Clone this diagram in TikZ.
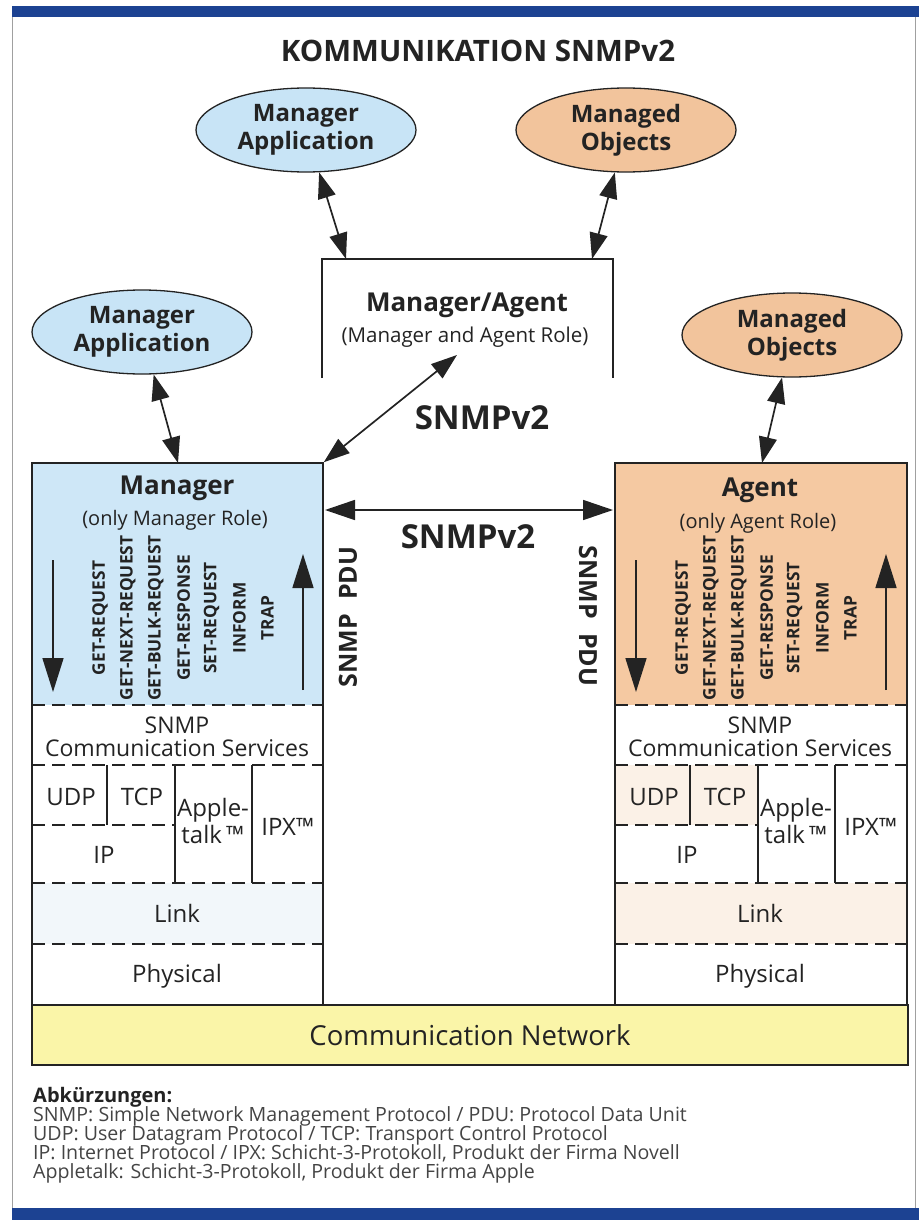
\documentclass[tikz,border=0pt]{standalone}
\usepackage{fontspec}
\setmainfont{Open Sans}
\usetikzlibrary{arrows.meta,shapes.geometric,calc}
\definecolor{barblue}{RGB}{28,66,146}
\definecolor{ellblue}{RGB}{200,228,246}
\definecolor{ellpeach}{RGB}{242,196,156}
\definecolor{mgrfill}{RGB}{206,231,247}
\definecolor{agtfill}{RGB}{245,201,162}
\definecolor{mgrfaint}{RGB}{242,247,250}
\definecolor{agtfaint}{RGB}{251,241,231}
\definecolor{cnyellow}{RGB}{250,245,168}
\definecolor{ink}{RGB}{35,35,35}
\definecolor{framegray}{RGB}{160,160,160}
\newcommand\fsz[2]{\fontsize{#1}{#2}\selectfont}
\begin{document}
\begin{tikzpicture}[x=1pt,y=-1pt,
  every node/.style={text=ink},
  ell/.style={ellipse, draw=ink, line width=1.3pt, minimum width=220pt, minimum height=84pt,
    inner sep=0pt, align=center, font=\bfseries\fsz{24}{28}},
  darr/.style={draw=ink, line width=1.7pt, {Triangle[length=26pt,width=18pt]}-{Triangle[length=26pt,width=18pt]}},
  harr/.style={draw=ink, line width=1.7pt, {Triangle[length=30pt,width=20pt]}-{Triangle[length=30pt,width=20pt]}},
  parr/.style={draw=ink, line width=1.6pt, -{Triangle[length=34pt,width=21pt]}},
  dsh/.style={draw=ink, line width=1.5pt, dash pattern=on 13pt off 7pt},
  sol/.style={draw=ink, line width=1.5pt},
  vlab/.style={rotate=90, font=\bfseries\fsz{17.3}{18}, inner sep=0pt},
  lbl/.style={font=\fsz{24}{27}, align=center, inner sep=0pt},
  foot/.style={anchor=base west, inner sep=0pt, font=\fsz{19.6}{21}, text=ink!85}
]
\useasboundingbox (0,0) rectangle (919,1220);
% frame and bars
\draw[framegray, line width=1pt] (12,17) -- (12,1208);
\draw[framegray, line width=1pt] (915,17) -- (915,1208);
\fill[barblue] (12,6) rectangle (919,17);
\fill[barblue] (12,1208) rectangle (919,1220);

% title
\node[font=\bfseries\fsz{29.5}{32}] (title) at (478,51) {KOMMUNIKATION SNMPv2};

% ellipses
\node[ell, fill=ellblue] (ma1) at (306,130) {Manager\\Application};
\node[ell, fill=ellpeach] (mo1) at (626,130) {Managed\\Objects};
\node[ell, fill=ellblue] (ma2) at (142,332) {Manager\\Application};
\node[ell, fill=ellpeach] (mo2) at (792,335) {Managed\\Objects};

% Manager/Agent box (open at the bottom)
\node[minimum width=291pt, minimum height=119pt, inner sep=0pt] (mab) at (467.5,318.5) {};
\draw[sol] (mab.south west) -- (mab.north west) -- (mab.north east) -- (mab.south east);
\node[font=\bfseries\fsz{26}{30}] (mabt) at (467,305) {Manager/Agent};
\node[font=\fsz{20.5}{22}] (mabr) at (465,337) {(Manager and Agent Role)};

% fills of the stacks
\fill[mgrfill] (32,463) rectangle (323,705);
\fill[agtfill] (615,463) rectangle (907,705);
\fill[mgrfaint] (32,883) rectangle (323,944);
\fill[agtfaint] (615,765) rectangle (758,825);
\fill[agtfaint] (615,883) rectangle (907,944);

% communication network
\node[draw=ink, line width=1.5pt, fill=cnyellow, minimum width=876pt, minimum height=60pt,
  font=\fsz{27.5}{30}] (cn) at (470,1035) {Communication Network};

% Manager and Agent boxes
\node[draw=ink, line width=1.5pt, minimum width=291pt, minimum height=542pt, inner sep=0pt] (mgr) at (177.5,734) {};
\node[draw=ink, line width=1.5pt, minimum width=292pt, minimum height=542pt, inner sep=0pt] (agt) at (761,734) {};

\node[font=\bfseries\fsz{26}{30}] (mgrt) at (177,488) {Manager};
\node[font=\fsz{20}{22}] (mgrr) at (175,520) {(only Manager Role)};
\node[font=\bfseries\fsz{26}{30}] (agtt) at (760,490) {Agent};
\node[font=\fsz{20}{22}] (agtr) at (758,523) {(only Agent Role)};

\foreach \ox/\nm in {0/m, 583/a}{
  % layer separators
  \draw[dsh] (32+\ox,705) -- (323+\ox,705);
  \draw[dsh] (32+\ox,765) -- (323+\ox,765);
  \draw[dsh] (32+\ox,825) -- (175+\ox,825);
  \draw[dsh] (32+\ox,883) -- (323+\ox,883);
  \draw[dsh] (32+\ox,944) -- (323+\ox,944);
  \draw[sol] (107+\ox,765) -- (107+\ox,825);
  \draw[sol] (175+\ox,765) -- (175+\ox,883);
  \draw[sol] (252+\ox,765) -- (252+\ox,883);
  % layer labels
  \node[lbl, font=\fsz{23}{23}] (snmp\nm) at (177+\ox,725) {SNMP};
  \node[lbl, font=\fsz{23}{23}] (cs\nm) at (177+\ox,748) {Communication Services};
  \node[lbl] (udp\nm) at (71+\ox,797) {UDP};
  \node[lbl] (tcp\nm) at (142+\ox,797) {TCP};
  \node[lbl] (apl\nm) at (213+\ox,821) {Apple-\\talk\,™};
  \node[lbl] (ipx\nm) at (288+\ox,827) {IPX™};
  \node[lbl] (ip\nm) at (104+\ox,855) {IP};
  \node[lbl] (lnk\nm) at (177+\ox,913) {Link};
  \node[lbl] (phy\nm) at (177+\ox,976) {Physical};
  % PDU names
  \foreach \t [count=\k] in {GET-REQUEST,GET-NEXT-REQUEST,GET-BULK-REQUEST,GET-RESPONSE,SET-REQUEST,INFORM,TRAP}{
    \node[vlab] (v\nm\k) at (100+\ox+27.9*\k-27.9,618) {\t};
  }
  % direction arrows
  \coordinate (dn1\nm) at (53+\ox,560);
  \coordinate (dn2\nm) at (53+\ox,692);
  \coordinate (up1\nm) at (303+\ox,690);
  \coordinate (up2\nm) at (303+\ox,554);
  \draw[parr] (dn1\nm) -- (dn2\nm);
  \draw[parr] (up1\nm) -- (up2\nm);
}

% connector end points
\coordinate (c1) at (346,259);
\coordinate (c2) at (592,259);
\coordinate (c3) at (178,463);
\coordinate (c4) at (762,463);
\coordinate (dg) at (457,355);
\coordinate (h1) at (325,510);
\coordinate (h2) at (613,510);

\draw[darr] (ma1) -- (c1);
\draw[darr] (mo1) -- (c2);
\draw[darr] (ma2) -- (c3);
\draw[darr] (mo2) -- (c4);
\draw[darr] (dg) -- (mgr.north east);
\draw[harr] (h1) -- (h2);

% SNMPv2 labels
\node[font=\bfseries\fsz{33}{36}] (sv1) at (482,418) {SNMPv2};
\node[font=\bfseries\fsz{33}{36}] (sv2) at (468,537) {SNMPv2};
\node[rotate=90, font=\bfseries\fsz{25}{28}, inner sep=0pt] (pdu1) at (348,617) {SNMP\hspace{14pt}PDU};
\node[rotate=-90, font=\bfseries\fsz{25}{28}, inner sep=0pt] (pdu2) at (588,616) {SNMP\hspace{14pt}PDU};

% footer
\node[foot, font=\bfseries\fsz{20}{22}, text=ink] (abk) at (33,1102) {Abkürzungen:};
\node[foot] (f1) at (33,1121) {SNMP: Simple Network Management Protocol / PDU: Protocol Data Unit};
\node[foot] (f2) at (33,1140) {UDP: User Datagram Protocol / TCP: Transport Control Protocol};
\node[foot] (f3) at (33,1159) {IP: Internet Protocol / IPX: Schicht-3-Protokoll, Produkt der Firma Novell};
\node[foot] (f4) at (33,1178) {Appletalk: Schicht-3-Protokoll, Produkt der Firma Apple};
\end{tikzpicture}
\end{document}
